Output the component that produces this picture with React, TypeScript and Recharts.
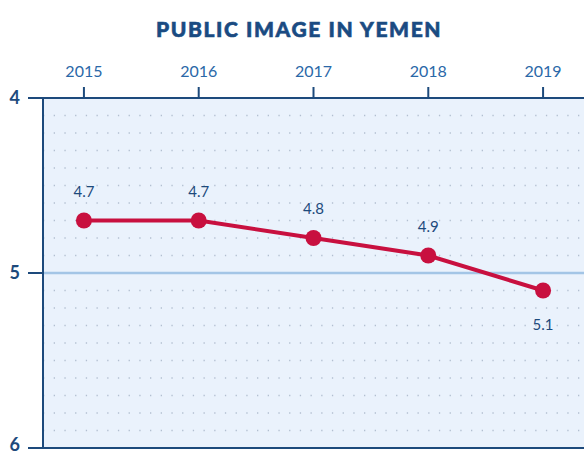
import { LineChart, Line, XAxis, YAxis, CartesianGrid, ReferenceLine, LabelList } from "recharts";

const years = [2015, 2016, 2017, 2018, 2019];
const scores = [4.7, 4.7, 4.8, 4.9, 5.1];
const yTicks = [4, 5, 6];
const gridTicks = [4.1, 4.2, 4.3, 4.4, 4.5, 4.6, 4.7, 4.8, 4.9, 5.1, 5.2, 5.3, 5.4, 5.5, 5.6, 5.7, 5.8, 5.9];

const data = years.map((year, i) => ({ year, score: scores[i] }));

const NAVY = "#1d4a7c";
const BLUE = "#2a68a8";
const RED = "#c8103f";
const FONT = "Lato, 'Open Sans', sans-serif";

const renderLabel = (props: any) => {
  const { x, y, value, index } = props;
  const below = index === scores.length - 1;
  return (
    <text
      x={x}
      y={below ? y + 33 : y - 30}
      textAnchor="middle"
      dominantBaseline="central"
      fill={NAVY}
      fontSize={15}
      fontFamily={FONT}
    >
      {Number(value).toFixed(1)}
    </text>
  );
};

export default function App() {
  return (
    <div style={{ position: "absolute", left: 0, top: 0, width: 584, height: 455, background: "#fff" }}>
      <div
        style={{
          position: "absolute",
          top: 16,
          left: 0,
          width: 598,
          textAlign: "center",
          fontFamily: FONT,
          fontWeight: 900,
          fontSize: 21,
          color: "#1a4b82",
          letterSpacing: 1.6,
          WebkitTextStroke: "0.6px #1a4b82",
        }}
      >
        PUBLIC IMAGE IN YEMEN
      </div>
      <LineChart width={584} height={455} data={data} margin={{ top: 58, right: 0, bottom: 7, left: 0 }}>
        <CartesianGrid horizontal={false} vertical={false} fill="#eaf2fc" />
        <XAxis
          dataKey="year"
          type="number"
          orientation="top"
          domain={[2014.6435, 2019.3565]}
          ticks={years}
          height={40}
          tickSize={11}
          tickMargin={10}
          axisLine={{ stroke: NAVY, strokeWidth: 2 }}
          tickLine={{ stroke: NAVY, strokeWidth: 2 }}
          tick={{ fill: BLUE, fontSize: 16, fontFamily: FONT }}
          allowDataOverflow
        />
        <YAxis
          domain={[4, 6]}
          reversed
          ticks={yTicks}
          width={43}
          tickSize={15}
          tickMargin={8}
          axisLine={{ stroke: NAVY, strokeWidth: 2 }}
          tickLine={{ stroke: NAVY, strokeWidth: 2 }}
          tick={{ fill: NAVY, fontSize: 18, fontWeight: 700, fontFamily: FONT }}
        />
        {gridTicks.map((t) => (
          <ReferenceLine key={t} y={t} stroke="#b2bfd0" strokeWidth={1.3} strokeDasharray="1.3 9.4" />
        ))}
        <ReferenceLine y={5} stroke="#a3c5e6" strokeWidth={2.5} />
        <ReferenceLine y={6} stroke={NAVY} strokeWidth={2} />
        <Line
          dataKey="score"
          stroke={RED}
          strokeWidth={4}
          dot={{ r: 8, fill: RED, stroke: RED, strokeWidth: 0 }}
          activeDot={false}
          isAnimationActive={false}
        >
          <LabelList dataKey="score" content={renderLabel} />
        </Line>
      </LineChart>
    </div>
  );
}
